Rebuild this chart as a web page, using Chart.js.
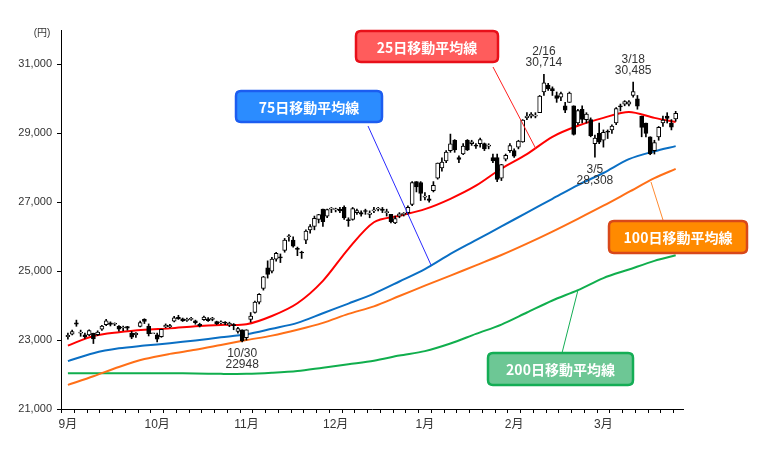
<!DOCTYPE html>
<html>
<head>
<meta charset="utf-8">
<script src="https://cdn.jsdelivr.net/npm/chart.js@4.4.0/dist/chart.umd.min.js"></script>
<style>
  html, body { margin: 0; padding: 0; background: #fff; }
  #wrap { width: 760px; height: 459px; }
</style>
</head>
<body>
<div id="wrap"><canvas id="chart1" width="760" height="459"></canvas></div>
<script>
// 日経平均 日足 (2020/9/1 ～ 2021/4/1), x = 営業日の番号
const opens = [
  23100,23170,23500,23200,23150,23150,23200,23160,23320,23450,
  23500,23460,23400,23350,23390,23200,23150,23400,23600,23400,
  23185,23150,23100,23380,23380,23550,23660,23620,23570,23600,
  23560,23460,23590,23620,23600,23540,23500,23500,23440,23450,
  23250,23300,23070,23600,23800,24100,24500,25100,25000,25350,
  25400,25600,26000,25900,25650,25550,25900,26200,26300,26500,
  26800,26600,26800,26780,26800,26850,26500,26500,26700,26700,
  26750,26650,26750,26800,26800,26700,26650,26400,26600,26650,
  26700,26940,27600,27575,27150,27100,27340,27700,28000,28200,
  28500,28800,28300,28400,28800,28700,28650,28700,28700,28630,
  28300,28300,27700,28250,28500,28500,28600,28750,29450,29500,
  29500,29600,30200,30400,30300,30100,30050,29800,29900,29800,
  29300,29700,29400,29400,28700,29000,28800,29050,29100,29300,
  29800,29850,29850,30100,30000,29500,29300,28900,28500,28900,
  29300,29500,29300,29420
];
const highs = [
  23200,23290,23580,23290,23200,23300,23200,23270,23430,23600,
  23530,23500,23420,23410,23400,23250,23220,23550,23620,23470,
  23185,23200,23320,23470,23460,23690,23720,23640,23640,23660,
  23580,23490,23700,23650,23660,23550,23560,23540,23520,23480,
  23370,23300,23300,23800,24130,24350,24850,25300,25400,25550,
  25500,25950,26060,26000,25700,25580,26200,26350,26600,26650,
  26800,26800,26850,26830,26850,26900,26550,26850,26800,26750,
  26800,26750,26850,26850,26850,26800,26650,26600,26700,26700,
  26900,27600,27600,27600,27280,27200,27600,28140,28290,28500,
  28979,28820,28350,28700,28820,28800,28700,28860,28720,28700,
  28400,28400,28100,28400,28700,28550,28800,29400,29600,29600,
  29600,30100,30714,30450,30350,30200,30200,29900,30200,29800,
  29700,29800,29600,29450,28950,29300,29100,29100,29250,29750,
  29850,29950,29950,30485,30100,29500,29300,28900,28800,29200,
  29500,29600,29400,29640
];
const lows = [
  23030,23150,23400,23110,23050,23130,22900,23130,23280,23420,
  23410,23420,23260,23270,23290,23040,23080,23380,23480,23120,
  23185,22950,23080,23360,23360,23530,23600,23540,23540,23570,
  23460,23380,23570,23540,23560,23450,23470,23450,23390,23300,
  23200,22948,23000,23520,23780,24050,24450,24800,24950,25290,
  25250,25550,25870,25700,25450,25370,25800,26100,26200,26400,
  26300,26550,26700,26720,26700,26500,26300,26480,26650,26600,
  26650,26550,26700,26750,26700,26600,26400,26380,26550,26600,
  26650,26900,27300,27050,27070,27000,27300,27670,27900,28150,
  28450,28450,28150,28380,28500,28650,28560,28600,28500,28550,
  28150,27600,27630,28200,28450,28300,28550,28740,29400,29450,
  29450,29600,30100,30250,30100,29900,29950,29600,29900,28950,
  29250,29300,29300,28900,28308,28700,28600,28850,29000,29250,
  29650,29800,29800,30050,29700,28900,28900,28380,28400,28800,
  29200,29300,29100,29350
];
const closes = [
  23138,23247,23465,23205,23089,23274,23032,23235,23406,23559,
  23454,23475,23319,23360,23346,23087,23204,23511,23539,23185,
  23185,23029,23312,23433,23422,23647,23619,23558,23601,23626,
  23507,23410,23671,23567,23639,23474,23516,23494,23485,23418,
  23331,22977,23295,23695,24105,24325,24839,24905,25349,25520,
  25385,25906,26014,25728,25634,25527,26165,26297,26537,26644,
  26434,26787,26800,26809,26751,26547,26467,26817,26756,26652,
  26733,26688,26757,26806,26763,26714,26436,26524,26668,26656,
  26854,27568,27444,27258,27158,27056,27490,28139,28164,28456,
  28698,28519,28242,28633,28523,28756,28631,28822,28546,28635,
  28197,27663,28091,28362,28646,28341,28779,29388,29505,29562,
  29520,30084,30467,30292,30236,30017,30156,29671,30168,28966,
  29663,29408,29559,28930,28864,28743,29028,29036,29211,29717,
  29766,29921,29914,30216,29792,29174,28995,28405,28729,29176,
  29384,29432,29178,29580
];

// 移動平均線 (読み取り値)
const maIdx  = [0,6,12,18,24,30,36,42,48,54,60,66,72,78,84,90,96,102,108,114,120,126,132,138,143];
const ma25  = [22840,23120,23230,23300,23340,23400,23440,23460,23700,24070,24720,25650,26420,26610,26800,27100,27480,27980,28400,28900,29220,29450,29620,29450,29330];
const ma75  = [22390,22620,22760,22840,22910,22990,23080,23170,23330,23500,23780,24060,24350,24700,25060,25500,25900,26300,26700,27100,27500,27850,28250,28480,28630];
const ma100 = [21700,21950,22220,22450,22600,22720,22860,23000,23130,23300,23500,23760,23980,24280,24580,24870,25170,25470,25800,26150,26520,26900,27300,27700,27970];
const ma200 = [22040,22040,22040,22040,22040,22030,22020,22020,22050,22100,22200,22300,22400,22550,22680,22900,23180,23450,23800,24150,24450,24800,25050,25300,25460];

// 目盛り
const yTicks = [21000,23000,25000,27000,29000,31000];
const monthIdx = [0,21,42,63,84,105,126];
const monthLabels = ['9月','10月','11月','12月','1月','2月','3月'];

// 吹き出し
const callouts = [
  {text:'25日移動平均線',  box:[356,31,142,31], fill:'#ff5c5c', stroke:'#e8101a', line:[493,67,536,149], lineColor:'#ff2020'},
  {text:'75日移動平均線',  box:[236,91,146,31], fill:'#2b8cff', stroke:'#1c5df0', line:[368,126,431,265], lineColor:'#2a2aff'},
  {text:'100日移動平均線', box:[609,221,138,32], fill:'#ff8a00', stroke:'#d8481a', line:[651,182,663,220], lineColor:'#ff8a30'},
  {text:'200日移動平均線', box:[488,353,145,32], fill:'#6dc795', stroke:'#14ad55', line:[562,353,578,290], lineColor:'#14ad55'}
];
const notes = [
  {idx:41,  lines:['10/30','22948'],  below:true},
  {idx:112, lines:['2/16','30,714'],  below:false},
  {idx:124, lines:['3/5','28,308'],   below:true},
  {idx:133, lines:['3/18','30,485'],  below:false}
];

Chart.defaults.font.family = "'Liberation Sans', 'Noto Sans CJK JP', sans-serif";
Chart.defaults.font.size = 11;
Chart.defaults.color = '#333';

let roundRect = (ctx, x, y, w, h, r) => {
  ctx.beginPath();
  ctx.moveTo(x + r, y);
  ctx.lineTo(x + w - r, y);
  ctx.quadraticCurveTo(x + w, y, x + w, y + r);
  ctx.lineTo(x + w, y + h - r);
  ctx.quadraticCurveTo(x + w, y + h, x + w - r, y + h);
  ctx.lineTo(x + r, y + h);
  ctx.quadraticCurveTo(x, y + h, x, y + h - r);
  ctx.lineTo(x, y + r);
  ctx.quadraticCurveTo(x, y, x + r, y);
  ctx.closePath();
};

const extras = {
  id: 'extras',
  afterDatasetsDraw(chart) {
    const ctx = chart.ctx;
    const xs = chart.scales.x, ys = chart.scales.y;
    ctx.save();
    // 単位
    ctx.fillStyle = '#333';
    ctx.font = "10px 'Liberation Sans', 'Noto Sans CJK JP', sans-serif";
    ctx.textAlign = 'center';
    ctx.textBaseline = 'middle';
    ctx.fillText('(円)', 42, 33);

    // 高値・安値の注記
    ctx.font = "12px 'Liberation Sans', sans-serif";
    notes.forEach(n => {
      const px = xs.getPixelForValue(n.idx);
      if (n.below) {
        const py = ys.getPixelForValue(lows[n.idx]);
        ctx.fillText(n.lines[0], px, py + 12);
        ctx.fillText(n.lines[1], px, py + 23);
      } else {
        const py = ys.getPixelForValue(highs[n.idx]);
        ctx.fillText(n.lines[0], px, py - 23);
        ctx.fillText(n.lines[1], px, py - 12);
      }
    });

    // 吹き出し
    callouts.forEach(c => {
      ctx.strokeStyle = c.lineColor;
      ctx.lineWidth = 1;
      ctx.beginPath();
      ctx.moveTo(c.line[0], c.line[1]);
      ctx.lineTo(c.line[2], c.line[3]);
      ctx.stroke();
    });
    callouts.forEach(c => {
      const [bx, by, bw, bh] = c.box;
      roundRect(ctx, bx, by, bw, bh, 5);
      ctx.fillStyle = c.fill;
      ctx.fill();
      ctx.strokeStyle = c.stroke;
      ctx.lineWidth = 2.5;
      ctx.stroke();
      ctx.fillStyle = '#fff';
      ctx.font = "bold 14px 'Noto Sans CJK JP', sans-serif";
      ctx.fillText(c.text, bx + bw / 2, by + bh / 2 + 1);
    });
    ctx.restore();
  }
};

let maLine = (vals, color, order) => ({
  type: 'line',
  data: maIdx.map((x, k) => ({x: x, y: vals[k]})),
  borderColor: color,
  borderWidth: 2,
  pointRadius: 0,
  tension: 0.3,
  order: order
});

const ctx = document.getElementById('chart1');
const config = {
  data: {
    datasets: [
      {
        type: 'bar',
        data: closes.map((c, i) => ({x: i, y: [opens[i], c]})),
        backgroundColor: closes.map((c, i) => c >= opens[i] ? '#ffffff' : '#000000'),
        borderColor: '#000',
        borderWidth: 1,
        borderSkipped: false,
        barThickness: 4,
        minBarLength: 1,
        grouped: false,
        clip: false,
        order: 1
      },
      {
        type: 'bar',
        data: closes.map((c, i) => ({x: i, y: [lows[i], highs[i]]})),
        backgroundColor: '#000',
        barThickness: 1,
        grouped: false,
        clip: false,
        order: 2
      },
      maLine(ma25, '#ff0000', 3),
      maLine(ma75, '#0a6fc4', 4),
      maLine(ma100, '#ff6f17', 5),
      maLine(ma200, '#10ae4d', 6)
    ]
  },
  options: {
    responsive: false,
    animation: false,
    devicePixelRatio: 1,
    layout: {padding: {top: 30, right: 77, left: 0, bottom: 0}},
    plugins: {legend: {display: false}, tooltip: {enabled: false}},
    scales: {
      x: {
        type: 'linear',
        min: -0.1,
        max: 143.2,
        afterBuildTicks: (s) => {
          const t = [];
          for (let v = 0; v <= 141; v += 3) t.push({value: v});
          s.ticks = t;
        },
        afterFit: (s) => { s.height = 50; },
        ticks: {
          autoSkip: false,
          maxRotation: 0,
          padding: 4,
          font: {size: 12},
          callback: (v) => {
            const k = monthIdx.indexOf(v);
            return k >= 0 ? monthLabels[k] : '';
          }
        },
        grid: {drawOnChartArea: false, tickLength: 4, color: '#000'},
        border: {color: '#000', width: 1}
      },
      y: {
        min: 21000,
        max: 32000,
        afterBuildTicks: (s) => { s.ticks = yTicks.map(v => ({value: v})); },
        afterFit: (s) => { s.width = 61; },
        ticks: {
          padding: 5,
          callback: (v) => v.toLocaleString('en-US')
        },
        grid: {drawOnChartArea: false, tickLength: 4, color: '#000'},
        border: {color: '#000', width: 1}
      }
    }
  },
  plugins: [extras]
};
const chart = new Chart(ctx, config);
</script>
</body>
</html>
